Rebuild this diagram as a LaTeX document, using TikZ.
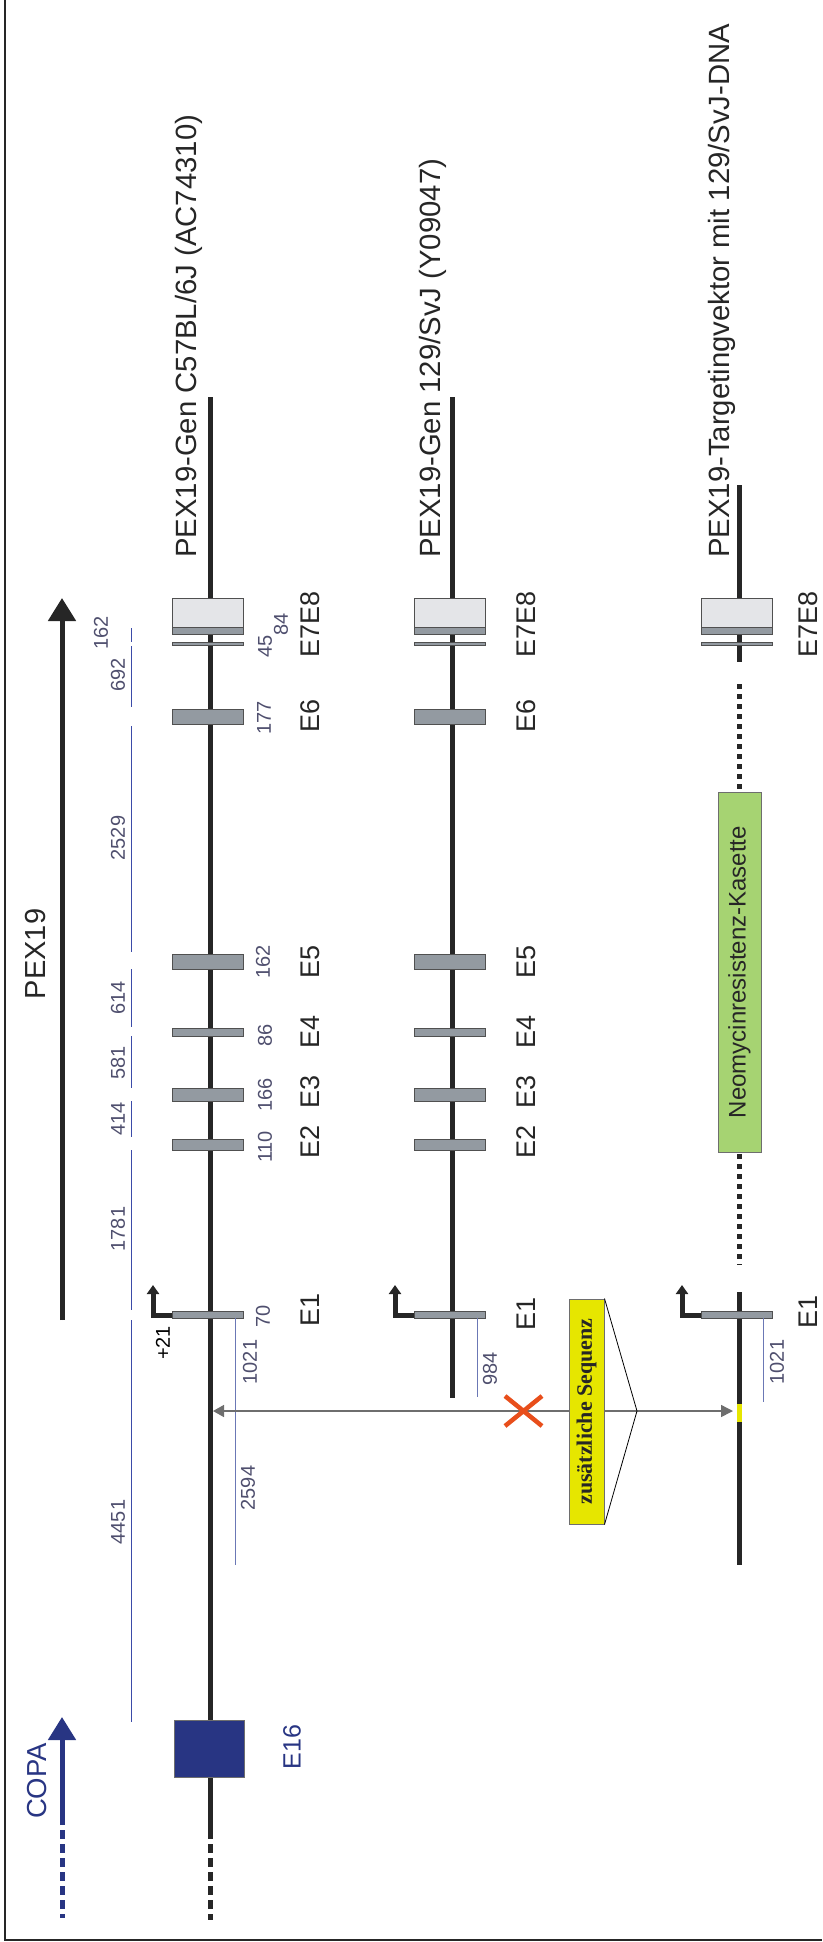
\documentclass[tikz,border=0pt]{standalone}
\usepackage{fontspec}
\setmainfont{Liberation Sans}
\newfontfamily\seqfont{Liberation Serif}
\usetikzlibrary{arrows.meta}
\definecolor{genedark}{HTML}{262626}
\definecolor{dimblue}{HTML}{3B4BA8}
\definecolor{lenblue}{HTML}{6B78B5}
\definecolor{numgray}{HTML}{4F4F6E}
\definecolor{exongray}{HTML}{939AA1}
\definecolor{exonedge}{HTML}{505050}
\definecolor{lightexon}{HTML}{E4E5E8}
\definecolor{navy}{HTML}{283583}
\definecolor{neogreen}{HTML}{A6D372}
\definecolor{seqyellow}{HTML}{E6E600}
\definecolor{xred}{HTML}{E84E1B}
\definecolor{arrgray}{HTML}{6E6E6E}

\begin{document}
\begin{tikzpicture}[x=1pt,y=-1pt,>=stealth]
\tikzstyle{gene}=[line width=5pt,draw=genedark]
\tikzstyle{exon}=[draw=exonedge,line width=1pt,fill=exongray]
\tikzstyle{dimline}=[draw=dimblue,line width=0.9pt]
\tikzstyle{lenline}=[draw=lenblue,line width=1pt]
\tikzstyle{num}=[rotate=90,inner sep=0pt,text=numgray,font=\fontsize{20}{22}\selectfont]
\tikzstyle{ename}=[rotate=90,inner sep=0pt,text=genedark,font=\fontsize{27}{30}\selectfont]
\tikzstyle{genetitle}=[rotate=90,inner sep=0pt,anchor=base west,text=genedark,font=\fontsize{29.3}{32}\selectfont]
\tikzstyle{bigarrow}=[line width=5pt,-{Triangle[width=27pt,length=23pt]}]
\tikzstyle{promo}=[gene,-{Triangle[width=12pt,length=9pt]}]
\useasboundingbox (0,0) rectangle (822,1942);
\draw[line width=1.8pt,draw=genedark] (5,0) -- (5,1940) -- (822,1940);

% direction arrows
\coordinate (pexa) at (62,1320);
\coordinate (pexb) at (62,598);
\draw[bigarrow,draw=genedark,fill=genedark] (pexa) -- (pexb);
\node[rotate=90,inner sep=0pt,text=genedark,font=\fontsize{29}{32}\selectfont] (pexlab) at (36,954) {PEX19};
\coordinate (copa) at (62,1825);
\coordinate (copb) at (62,1717);
\draw[bigarrow,draw=navy,fill=navy] (copa) -- (copb);
\draw[line width=5pt,draw=navy,dash pattern=on 9pt off 5pt] (62,1830) -- (62,1918);
\node[rotate=90,inner sep=0pt,text=navy,font=\fontsize{27.5}{30}\selectfont] (copalab) at (37,1781) {COPA};

% lengths
\foreach \a/\b in {628/642,646/707,726/952,969/1027,1036/1088,1101/1137,1150/1310,1320/1722}
  \draw[dimline] (131,\a) -- (131,\b);
\node[num] (d162) at (101,633) {162};
\foreach \y/\t in {675/692,838/2529,998/614,1063/581,1119/414,1229/1781,1522/4451}
  \node[num] (d\t) at (118,\y) {\t};

% genes
\coordinate (g1top) at (210,397);
\coordinate (g1end) at (210,1830);
\coordinate (g1bot) at (210,1920);
\coordinate (g2top) at (452,397);
\coordinate (g2bot) at (452,1398);
\draw[gene] (g1top) -- (g1end);
\draw[gene,dash pattern=on 9pt off 5pt] (g1end) -- (g1bot);
\draw[gene] (g2top) -- (g2bot);
\draw[gene] (739,485) -- (739,662);
\draw[gene,dash pattern=on 5pt off 5pt] (739,684) -- (739,790);
\draw[gene,dash pattern=on 5pt off 5pt] (739,1154) -- (739,1265);
\draw[gene] (739,1292) -- (739,1565);
\draw[line width=5pt,draw=seqyellow] (739,1404) -- (739,1422);

% exons
\foreach \g in {210,452}{
  \foreach \a/\b in {709/724,954/969,1028/1036,1088/1101,1139/1150}
    \draw[exon] (\g-38,\a) rectangle (\g+33,\b);
}
\foreach \g in {210,452,739}{
  \draw[exon,fill=lightexon] (\g-38,598) rectangle (\g+33,627);
  \draw[exon] (\g-38,627) rectangle (\g+33,634);
  \draw[exon] (\g-38,642) rectangle (\g+33,645);
  \draw[exon] (\g-38,1311) rectangle (\g+33,1318);
  \draw[promo] (\g-38,1315) -- (\g-57,1315) -- (\g-57,1285);
}
\node[draw=arrgray,fill=navy,minimum width=70pt,minimum height=57pt] (e16) at (209,1748.5) {};
\node[rotate=90,inner sep=0pt,text=navy,font=\fontsize{25}{28}\selectfont] (e16lab) at (292,1747) {E16};

\draw[lenline] (235,1318) -- (235,1565);
\draw[lenline] (477,1318) -- (477,1397);
\draw[lenline] (763,1318) -- (763,1402);

% titles
\node[genetitle] (t1) at (196.5,558) {PEX19-Gen C57BL/6J (AC74310)};
\node[genetitle] (t2) at (440.5,558) {PEX19-Gen 129/SvJ (Y09047)};
\node[genetitle] (t3) at (729.5,558) {PEX19-Targetingvektor mit 129/SvJ-DNA};

% exon names
\foreach \x in {310,526}{
  \foreach \y/\t in {624/E7E8,716/E6,962/E5,1032/E4,1092/E3,1142/E2}
    \node[ename] at (\x,\y) {\t};
}
\node[ename] (e1a) at (310,1310) {E1};
\node[ename] (e1b) at (526,1314) {E1};
\node[ename] (e78c) at (808,624) {E7E8};
\node[ename] (e1c) at (808,1312) {E1};

% exon sizes
\foreach \x/\y/\t in {281/624/84,265/646/45,264/718/177,263/962/162,265/1035/86,265/1095/166,265/1147/110,263/1316/70}
  \node[num] (n\t) at (\x,\y) {\t};
\node[num] (l1) at (250,1362) {1021};
\node[num] (l2) at (248,1488) {2594};
\node[num] (l3) at (490,1369) {984};
\node[num] (l4) at (777,1362) {1021};
\node[num,text=black] (p21) at (163,1343) {+21};

% insertion
\coordinate (ins1) at (213,1411);
\coordinate (ins3) at (733,1411);
\draw[draw=arrgray,fill=arrgray,line width=1.5pt,{Triangle[width=12pt,length=11pt]}-{Triangle[width=12pt,length=12pt]}] (ins1) -- (ins3);
\draw[draw=xred,line width=4.5pt] (505,1396) -- (542,1426) (505,1426) -- (542,1396);
\node[rotate=90,draw=arrgray,fill=seqyellow,line width=1pt,minimum width=225pt,minimum height=35pt,inner sep=0pt,text=genedark,font=\seqfont\bfseries\fontsize{22}{24}\selectfont] (seq) at (586.5,1411.5) {zusätzliche Sequenz};
\coordinate (tip) at (637,1411);
\draw[line width=0.8pt] (seq.south east) -- (tip) -- (seq.south west);
\node[rotate=90,draw=arrgray,fill=neogreen,line width=1pt,minimum width=360pt,minimum height=43pt,inner sep=0pt,text=genedark,font=\fontsize{24}{26}\selectfont] (neo) at (739.5,972) {Neomycinresistenz-Kasette};
\end{tikzpicture}
\end{document}
